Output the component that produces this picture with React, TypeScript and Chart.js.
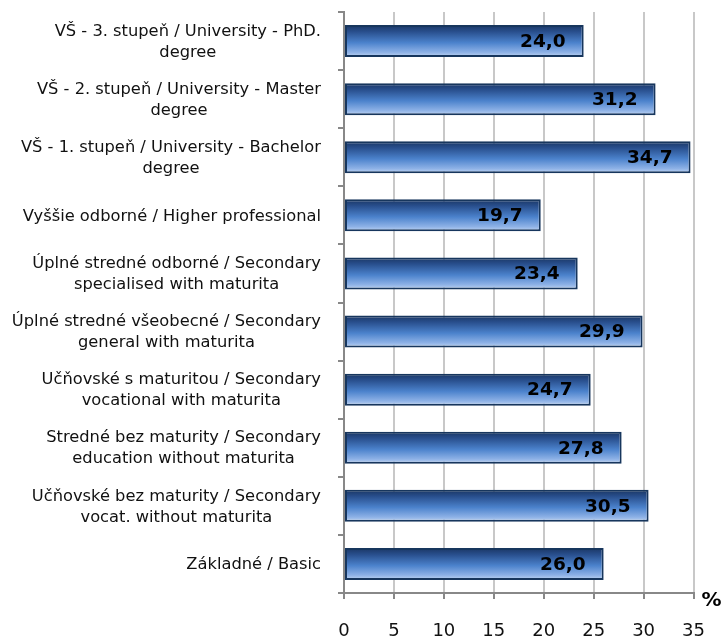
import React, { useEffect, useRef } from "react";
import { Chart, registerables } from "chart.js";

Chart.register(...registerables);

const categoryLines: string[][] = [
  ["VŠ - 3. stupeň / University - PhD.", "degree"],
  ["VŠ - 2. stupeň / University - Master", "degree"],
  ["VŠ - 1. stupeň / University - Bachelor", "degree"],
  ["Vyššie odborné / Higher professional"],
  ["Úplné stredné odborné / Secondary", "specialised with maturita"],
  ["Úplné stredné všeobecné / Secondary", "general with maturita"],
  ["Učňovské s maturitou / Secondary", "vocational with maturita"],
  ["Stredné bez maturity / Secondary", "education without maturita"],
  ["Učňovské bez maturity / Secondary", "vocat. without maturita"],
  ["Základné / Basic"],
];
const values: number[] = [24.0, 31.2, 34.7, 19.7, 23.4, 29.9, 24.7, 27.8, 30.5, 26.0];
const xMin = 0;
const xMax = 35;
const xStep = 5;
const unitLabel = "%";

const FONT = "'DejaVu Sans', Verdana, Tahoma, sans-serif";

const gradientPlugin = {
  id: "barGradient",
  beforeDatasetsDraw(chart: any) {
    const ctx = chart.ctx;
    const meta = chart.getDatasetMeta(0);
    meta.data.forEach((el: any) => {
      const { y, height } = el.getProps(["y", "height"], true);
      const top = y - height / 2;
      const bottom = y + height / 2;
      const g = ctx.createLinearGradient(0, top, 0, bottom);
      g.addColorStop(0, "#1a3663");
      g.addColorStop(0.2, "#284e8c");
      g.addColorStop(0.55, "#4b82cc");
      g.addColorStop(0.85, "#8db1e6");
      g.addColorStop(1, "#c0d5f2");
      el.options = Object.assign({}, el.options, { backgroundColor: g });
    });
  },
};

const labelsPlugin = {
  id: "customLabels",
  afterDraw(chart: any) {
    const ctx = chart.ctx;
    const yScale = chart.scales.y;
    const xScale = chart.scales.x;
    ctx.save();
    // category labels
    ctx.font = `16.3px ${FONT}`;
    ctx.fillStyle = "#111";
    ctx.textBaseline = "middle";
    ctx.textAlign = "center";
    const rightEdge = yScale.right - 23;
    const lh = 21;
    categoryLines.forEach((lines, i) => {
      const cy = yScale.getPixelForValue(i);
      const w = Math.max(...lines.map((l) => ctx.measureText(l).width));
      const cx = rightEdge - w / 2;
      lines.forEach((line, j) => {
        ctx.fillText(line, cx, cy - ((lines.length - 1) * lh) / 2 + j * lh + 1);
      });
    });
    // value labels
    ctx.font = `bold 18.5px ${FONT}`;
    ctx.fillStyle = "#000";
    ctx.textAlign = "right";
    const meta = chart.getDatasetMeta(0);
    meta.data.forEach((el: any, i: number) => {
      const { x, y } = el.getProps(["x", "y"], true);
      ctx.fillText(values[i].toFixed(1).replace(".", ","), x - 18, y + 1);
    });
    // unit label
    ctx.font = `bold 20px ${FONT}`;
    ctx.textAlign = "center";
    ctx.fillText(unitLabel, xScale.right + 18, xScale.top + 8);
    ctx.restore();
  },
};

export default function App() {
  const ref = useRef<HTMLCanvasElement>(null);
  useEffect(() => {
    if (!ref.current) return;
    const chart = new Chart(ref.current, {
      type: "bar",
      data: {
        labels: categoryLines.map((l) => l.join(" ")),
        datasets: [
          {
            data: values,
            backgroundColor: "#4f81bd",
            borderColor: "#17365d",
            borderWidth: 2,
            borderSkipped: false,
            categoryPercentage: 1,
            barPercentage: 0.55,
          },
        ],
      },
      options: {
        indexAxis: "y",
        responsive: false,
        animation: false,
        layout: { padding: { left: 0, right: 33, top: 12, bottom: 0 } },
        plugins: {
          legend: { display: false },
          tooltip: { enabled: false },
          title: { display: false },
        },
        scales: {
          x: {
            min: xMin,
            max: xMax,
            ticks: {
              stepSize: xStep,
              color: "#111",
              font: { family: FONT, size: 18 },
              padding: 22,
            },
            grid: {
              color: "#c8c8c8",
              lineWidth: 2,
              tickColor: "#888",
              tickLength: 6,
              drawOnChartArea: true,
            },
            border: { display: true, color: "#888", width: 2 },
            afterFit: (s: any) => {
              s.height = 49;
            },
          },
          y: {
            ticks: { color: "transparent", font: { family: FONT, size: 15 } },
            grid: {
              drawOnChartArea: false,
              drawTicks: true,
              tickLength: 6,
              color: "#888",
              lineWidth: 2,
              offset: true,
            },
            border: { display: true, color: "#888", width: 2 },
            afterFit: (s: any) => {
              s.width = 344;
            },
          },
        },
      },
      plugins: [gradientPlugin, labelsPlugin],
    });
    return () => chart.destroy();
  }, []);
  return (
    <div style={{ position: "fixed", left: 0, top: 0, width: 727, height: 642, background: "#fff" }}>
      <canvas ref={ref} width={727} height={642} style={{ width: 727, height: 642 }} />
    </div>
  );
}
